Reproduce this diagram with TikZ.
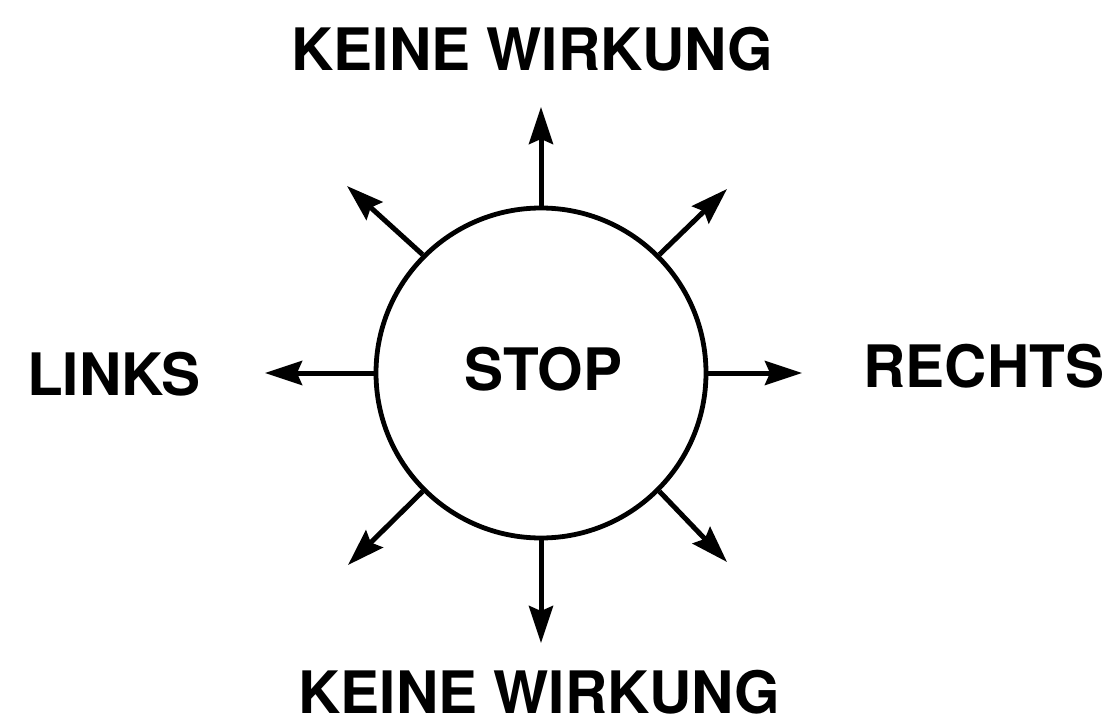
\documentclass[tikz,border=0pt]{standalone}
\usepackage{fontspec}
\setmainfont{TeX Gyre Heros}
\usetikzlibrary{arrows.meta}
\begin{document}
\begin{tikzpicture}[x=1pt, y=-1pt,
  caption/.style={font=\fontsize{58.5}{60}\selectfont\bfseries, inner sep=0pt, anchor=base},
  ray/.style={line width=5pt, -{Stealth[length=37pt, width=24pt, inset=5pt]}},
  disc/.style={circle, draw, line width=4.8pt, minimum size=330pt, inner sep=0pt}
]
\useasboundingbox (0,0) rectangle (1118,719);

% central circle
\node[disc] (c) at (541,373) {};
\node[caption] (stop) at (543.5,390) {STOP};

% outer labels
\node[caption] (top) at (532.5,71) {KEINE WIRKUNG};
\node[caption] (bottom) at (539.5,713) {KEINE WIRKUNG};
\node[caption] (links) at (114,395) {LINKS};
\node[caption] (rechts) at (984,387) {RECHTS};

% free ends of the eight rays
\coordinate (tN) at (541,107);
\coordinate (tS) at (541,643);
\coordinate (tW) at (265,373);
\coordinate (tE) at (802,373);
\coordinate (tNW) at (347,186);
\coordinate (tNE) at (727,189);
\coordinate (tSW) at (348,565);
\coordinate (tSE) at (727,562);

\draw[ray] (c.90) -- (tN);
\draw[ray] (c.270) -- (tS);
\draw[ray] (c.180) -- (tW);
\draw[ray] (c.0) -- (tE);
\draw[ray] (c.135) -- (tNW);
\draw[ray] (c.45) -- (tNE);
\draw[ray] (c.225) -- (tSW);
\draw[ray] (c.315) -- (tSE);
\end{tikzpicture}
\end{document}
